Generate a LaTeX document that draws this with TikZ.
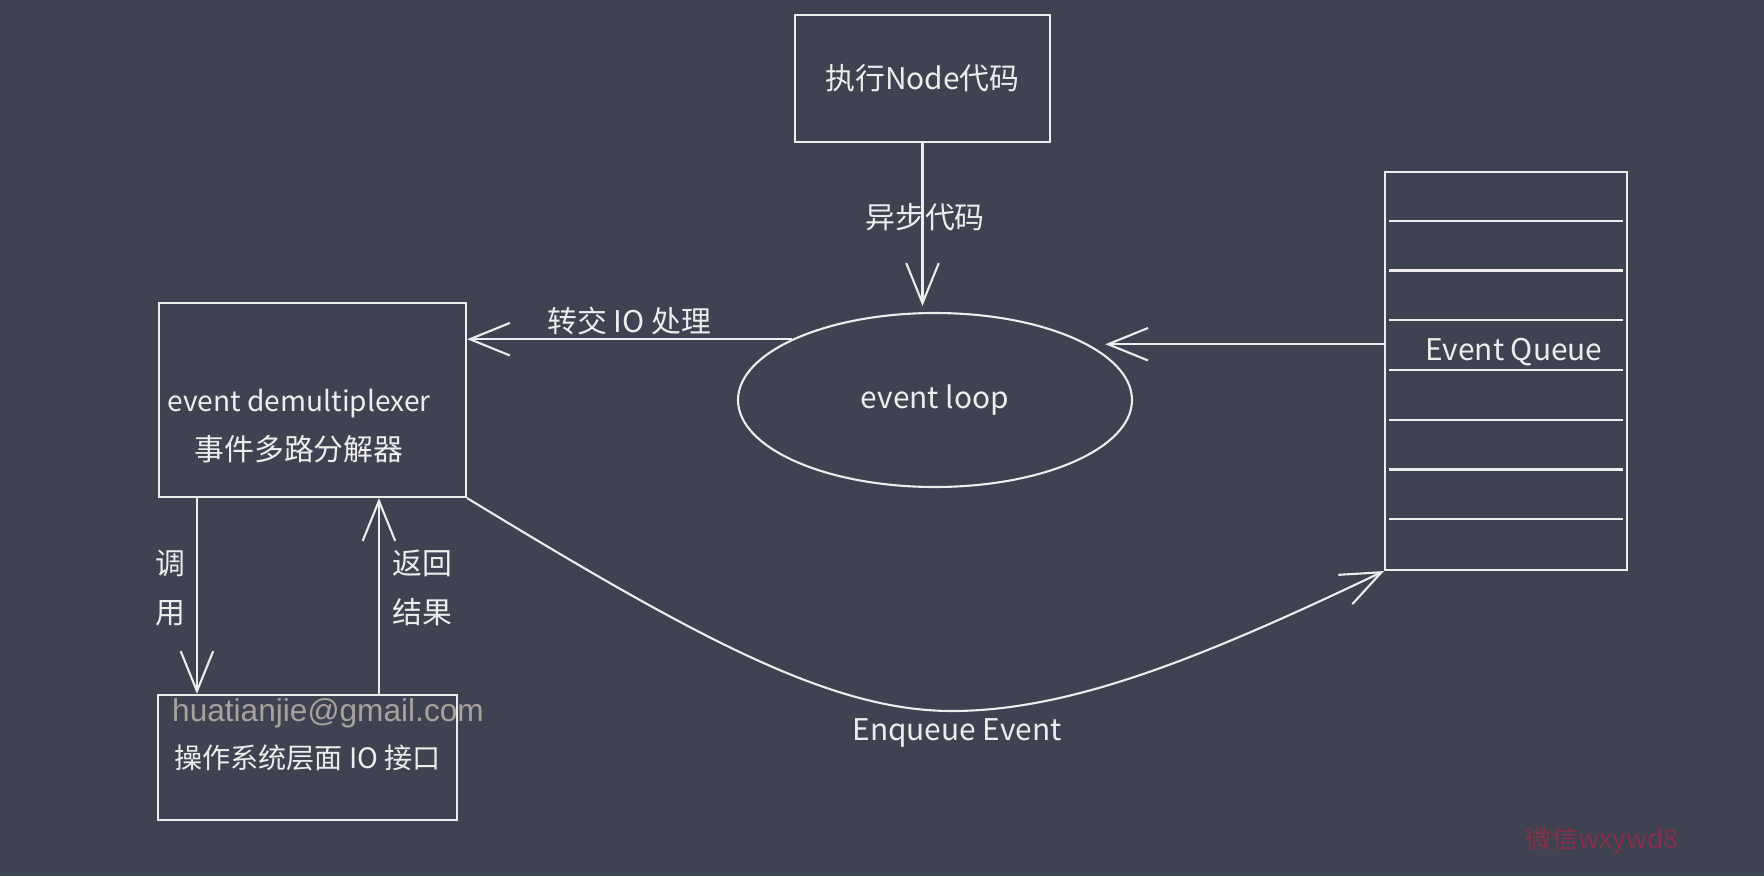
\documentclass[tikz,border=0pt]{standalone}
\usepackage{fontspec}
\setmainfont{Noto Sans CJK SC}
\newfontfamily\mailfont{Liberation Sans}
\usetikzlibrary{arrows.meta,shapes.geometric}
\definecolor{bg}{HTML}{3F4250}
\definecolor{ink}{HTML}{EDEDED}
\definecolor{mailgray}{HTML}{A8A29F}
\definecolor{wmred}{HTML}{86304A}

\begin{document}
\begin{tikzpicture}[
    box/.style={draw=ink, line width=1.2pt, rectangle, inner sep=0pt, text=ink, align=center, font=\fontsize{17}{27}\selectfont},
    arr/.style={draw=ink, line width=1.2pt, -{Straight Barb[length=0.8cm,width=0.65cm,line width=1.2pt]}},
    lbl/.style={text=ink, align=center, inner sep=2pt, font=\fontsize{17}{28}\selectfont}
]
    \fill[bg] (0,0) rectangle (35.28,-17.52);
    \useasboundingbox (0,0) rectangle (35.28,-17.52);

    % boxes
    \node[box, minimum width=5.1cm, minimum height=2.54cm] (exec) at (18.45,-1.57) {执行Node代码};
    \node[box, ellipse, minimum width=7.88cm, minimum height=3.48cm] (loop) at (18.7,-8.0) {event loop};
    \node[box, minimum width=6.14cm, minimum height=3.88cm] (demux) at (6.25,-8.0) {};
    \node[lbl] (demuxtext) at (5.98,-8.52) {{\fontsize{16}{28}\selectfont event demultiplexer}\\事件多路分解器};
    \node[box, font=\fontsize{16}{27}\selectfont, minimum width=5.98cm, minimum height=2.5cm] (os) at (6.15,-15.15) {操作系统层面 IO 接口};
    \node[text=mailgray, inner sep=0pt, font=\mailfont\fontsize{18}{20}\selectfont] (mail) at (6.56,-14.26) {huatianjie@gmail.com};

    % queue
    \node[box, minimum width=4.84cm, minimum height=7.96cm] (queue) at (30.12,-7.42) {};
    \foreach \i in {1,...,7}
        \draw[ink, line width=1.2pt] ([xshift=0.1cm,yshift=-\i*0.995cm]queue.north west) -- ([xshift=-0.1cm,yshift=-\i*0.995cm]queue.north east);
    \node[lbl] (qtext) at (30.28,-7.04) {Event Queue};

    % connectors
    \draw[arr, shorten >=0.12cm] (exec.south) -- (exec.south |- loop.north);
    \node[lbl] (async) at (18.5,-4.34) {异步代码};
    \draw[arr] (loop.157) -- (loop.157 -| demux.east) node[midway, above, lbl]{转交 IO 处理};
    \draw[arr, shorten >=0.34cm] (queue.west |- loop.20) -- (loop.20);
    \draw[arr] ([xshift=0.78cm]demux.south west) -- ([xshift=0.78cm]demux.south west |- os.north) node[midway, left, lbl, xshift=-0.14cm, yshift=0.16cm]{调\\用};
    \draw[arr] ([xshift=4.44cm]os.north west) -- ([xshift=4.44cm]os.north west |- demux.south) node[midway, right, lbl, xshift=0.18cm, yshift=0.16cm]{返回\\结果};
    \draw[arr] (demux.south east) .. controls (14.0,-12.8) and (16.64,-14.22) .. (19.04,-14.22)
        .. controls (21.44,-14.22) and (24.12,-13.12) .. (queue.south west);
    \node[lbl] (enq) at (19.14,-14.66) {Enqueue Event};

    \node[text=wmred, inner sep=0pt, font=\fontsize{15}{18}\selectfont] (wm) at (32.04,-16.8) {微信wxywd8};
\end{tikzpicture}
\end{document}
